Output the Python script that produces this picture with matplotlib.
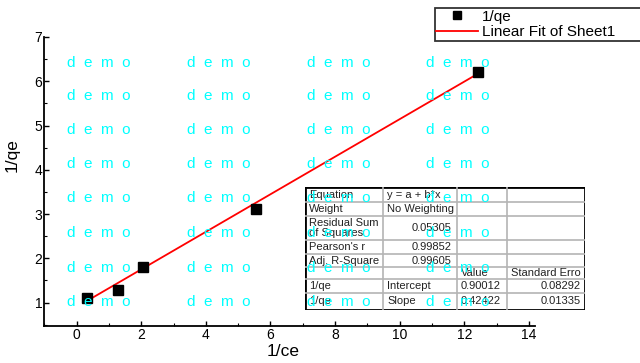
import matplotlib
matplotlib.use('Agg')
import matplotlib.pyplot as plt
from matplotlib.patches import Rectangle

plt.rcParams['font.family'] = ['Liberation Sans', 'DejaVu Sans']

# data
inv_ce = [0.31, 1.27, 2.06, 5.55, 12.42]
inv_qe = [1.11, 1.28, 1.80, 3.12, 6.21]
fit_x = [0.35, 12.42]
fit_y = [1.05, 6.17]

xticks = [0, 2, 4, 6, 8, 10, 12, 14]
yticks = [1, 2, 3, 4, 5, 6, 7]

table_rows = [
    ["Equation", "y = a + b*x", "", ""],
    ["Weight", "No Weighting", "", ""],
    ["Residual Sum\nof Squares", "0.05305", "", ""],
    ["Pearson's r", "0.99852", "", ""],
    ["Adj. R-Square", "0.99605", "", ""],
    ["", "", "Value", "Standard Erro"],
    ["1/qe", "Intercept", "0.90012", "0.08292"],
    ["1/qe", "Slope", "0.42422", "0.01335"],
]

W, H = 640, 363
fig = plt.figure(figsize=(6.4, 3.63), dpi=100)

def fx(px):
    return px / W

def fy(py):
    return 1 - py / H

ax = fig.add_axes([fx(44.4), fy(326), (535 - 44.4) / W, (326 - 37) / H])
ax.plot(inv_ce, inv_qe, 's', color='black', ms=6.5, label='1/qe', zorder=3)
ax.plot(fit_x, fit_y, '-', color='red', lw=1.3, label='Linear Fit of Sheet1', zorder=2)
ax.set_xlim(-1, 14.19)
ax.set_ylim(0.47, 7)
ax.set_xticks(xticks)
ax.set_yticks(yticks)
ax.set_xticks(range(-1, 15, 2), minor=True)
ax.set_yticks([0.5 + i for i in range(7)], minor=True)
for s in ['top', 'right']:
    ax.spines[s].set_visible(False)
for s in ['left', 'bottom']:
    ax.spines[s].set_linewidth(1.3)
ax.tick_params(which='major', direction='in', length=3.5, width=1, labelsize=10, pad=1.5)
ax.tick_params(which='minor', direction='in', length=2, width=0.8)
ax.patch.set_alpha(0)

fig.text(fx(12), fy(155), '1/qe', rotation=90, ha='center', va='center', fontsize=12.5)
fig.text(fx(283), fy(352), '1/ce', ha='center', va='center', fontsize=12.5)

# legend, wider than the figure so its right side is cut off
leg = fig.legend(loc='upper left', bbox_to_anchor=(fx(434.5), fy(43), fx(230), 35 / H),
                 mode='expand', fontsize=11, frameon=True, fancybox=False,
                 edgecolor='black', borderpad=0.12, labelspacing=0.08,
                 handlelength=2.7, handletextpad=0.3, markerscale=0.78,
                 borderaxespad=0)
leg.get_frame().set_linewidth(1.3)

# fit results table
tax = fig.add_axes([fx(305), fy(310), 280 / W, 123 / H])
tax.set_xlim(305, 585)
tax.set_ylim(310, 187)
tax.axis('off')
row_lines = [187, 202, 216, 240, 254, 267, 279, 293, 310]
col_lines = [305, 383, 457, 507, 585]
for yl in row_lines[1:-1]:
    tax.plot([305, 585], [yl, yl], color='#b4b4b4', lw=1.2)
for xl in col_lines[1:-1]:
    tax.plot([xl, xl], [187, 310], color='#b4b4b4', lw=1.2)
tax.add_patch(Rectangle((305, 187), 280, 123, fill=False, edgecolor='black', lw=2))
for i, row in enumerate(table_rows):
    yc = (row_lines[i] + row_lines[i + 1]) / 2
    for j, val in enumerate(row):
        if not val:
            continue
        isnum = val[0].isdigit()
        if j == 1 and isnum:
            tax.text(col_lines[2] - 5, yc, val, ha='right', va='center', fontsize=8, color='#222222')
        elif j == 3:
            tax.text(col_lines[4] - 4, yc, val, ha='right', va='center', fontsize=8, color='#222222')
        else:
            tax.text(col_lines[j] + 4, yc, val, ha='left', va='center', fontsize=8,
                     color='#222222', linespacing=1.0)

# watermark
wm_x = [67, 187, 307, 426]
wm_y = [63, 96, 130, 164, 198, 233, 268, 302]
for yy in wm_y:
    for xx in wm_x:
        fig.text(fx(xx), fy(yy), 'd  e  m  o', color='#00ffff', fontsize=11,
                 ha='left', va='center', zorder=5)

fig.savefig('out.png', dpi=100)
